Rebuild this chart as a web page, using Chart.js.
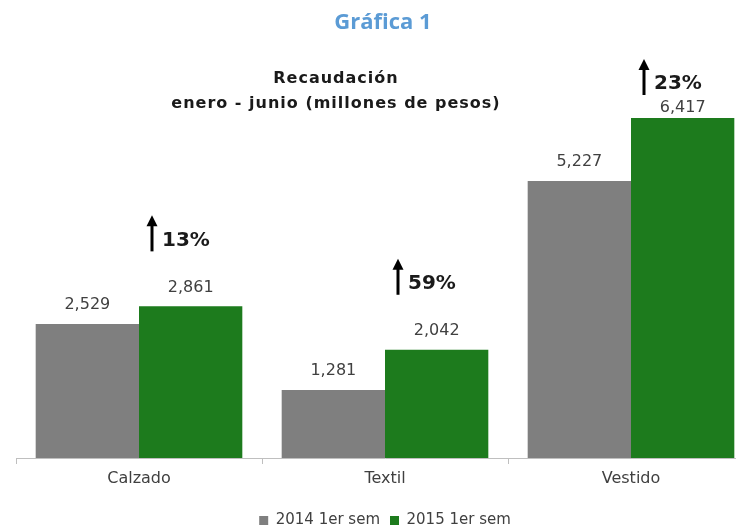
<!DOCTYPE html>
<html>
<head>
<meta charset="utf-8">
<script src="https://cdn.jsdelivr.net/npm/chart.js@4.4.1/dist/chart.umd.min.js"></script>
<style>
    html, body { margin: 0; padding: 0; background: #fff; overflow: hidden; }
    body { width: 736px; height: 527px; position: relative; }
    #wrap { position: absolute; left: 0; top: 0; width: 760px; height: 527px; }
    .title { position: absolute; left: 0; width: 766px; text-align: center; font-family: "Open Sans", sans-serif; font-weight: bold; }
    #mainTitle { top: 5px; font-size: 22px; color: #5b9bd5; }
    #subTitle { top: 65px; left: 0; width: 672px; font-family: "DejaVu Sans", sans-serif; font-size: 16px; letter-spacing: 1px; line-height: 25px; color: #1a1a1a; }
</style>
</head>
<body>
<div id="wrap"><canvas id="chart" width="760" height="527"></canvas></div>
<div id="mainTitle" class="title">Gráfica 1</div>
<div id="subTitle" class="title">Recaudación<br>enero - junio (millones de pesos)</div>
<script>
// Data
const categories = ['Calzado', 'Textil', 'Vestido'];
const values2014 = [2529, 1281, 5227];
const values2015 = [2861, 2042, 6417];
const seriesNames = ['2014 1er sem', '2015 1er sem'];

const GRAY = '#7f7f7f';
const GREEN = '#1d7b1d';

// Values above each bar
const valueLabels = {
    id: 'valueLabels',
    afterDatasetsDraw(chart) {
        const ctx = chart.ctx;
        ctx.save();
        ctx.font = '16px "DejaVu Sans", sans-serif';
        ctx.fillStyle = '#404040';
        ctx.textAlign = 'center';
        ctx.textBaseline = 'bottom';
        chart.data.datasets.forEach((ds, i) => {
            chart.getDatasetMeta(i).data.forEach((bar, j) => {
                const y = Math.max(bar.y - 11, 116);
                ctx.fillText(ds.data[j].toLocaleString('en-US'), bar.x, y);
            });
        });
        ctx.restore();
    }
};

// Growth arrows above the 2015 bars
const growthArrows = {
    id: 'growthArrows',
    afterDatasetsDraw(chart) {
        const ctx = chart.ctx;
        const meta = chart.getDatasetMeta(1);
        ctx.save();
        meta.data.forEach((bar, j) => {
            const pct = Math.round((values2015[j] / values2014[j] - 1) * 100) + '%';
            const cy = Math.max(bar.y - 66, 84);
            const ax = bar.x - bar.width / 2 + 13;
            // arrow
            ctx.strokeStyle = '#000';
            ctx.fillStyle = '#000';
            ctx.lineWidth = 3;
            ctx.beginPath();
            ctx.moveTo(ax, cy + 11);
            ctx.lineTo(ax, cy - 15);
            ctx.stroke();
            ctx.beginPath();
            ctx.moveTo(ax - 5.5, cy - 14);
            ctx.lineTo(ax + 5.5, cy - 14);
            ctx.lineTo(ax, cy - 25);
            ctx.closePath();
            ctx.fill();
            // text
            ctx.font = 'bold 20px "DejaVu Sans", sans-serif';
            ctx.fillStyle = '#1a1a1a';
            ctx.textAlign = 'left';
            ctx.textBaseline = 'middle';
            ctx.fillText(pct, ax + 10, cy);
        });
        ctx.restore();
    }
};

const ctx = document.getElementById('chart').getContext('2d');
const chart = new Chart(ctx, {
    type: 'bar',
    data: {
        labels: categories,
        datasets: [
            { label: seriesNames[0], data: values2014, backgroundColor: GRAY },
            { label: seriesNames[1], data: values2015, backgroundColor: GREEN }
        ]
    },
    options: {
        responsive: false,
        animation: false,
        layout: { padding: { left: 16, right: 6, top: 34, bottom: -11 } },
        datasets: { bar: { categoryPercentage: 0.84, barPercentage: 1.0 } },
        plugins: {
            legend: {
                position: 'bottom',
                labels: {
                    boxWidth: 9,
                    boxHeight: 9,
                    padding: 10,
                    color: '#404040',
                    font: { family: '"DejaVu Sans", sans-serif', size: 15 }
                }
            },
            tooltip: { enabled: false }
        },
        scales: {
            x: {
                grid: { display: true, drawOnChartArea: false, color: '#bfbfbf', tickLength: 6, offset: true },
                border: { display: true, color: '#bfbfbf' },
                ticks: { color: '#404040', padding: 5, font: { family: '"DejaVu Sans", sans-serif', size: 16 } },
                afterFit(scale) { scale.height = 45; }
            },
            y: {
                display: false,
                min: 0,
                max: 8000
            }
        }
    },
    plugins: [valueLabels, growthArrows]
});
</script>
</body>
</html>
